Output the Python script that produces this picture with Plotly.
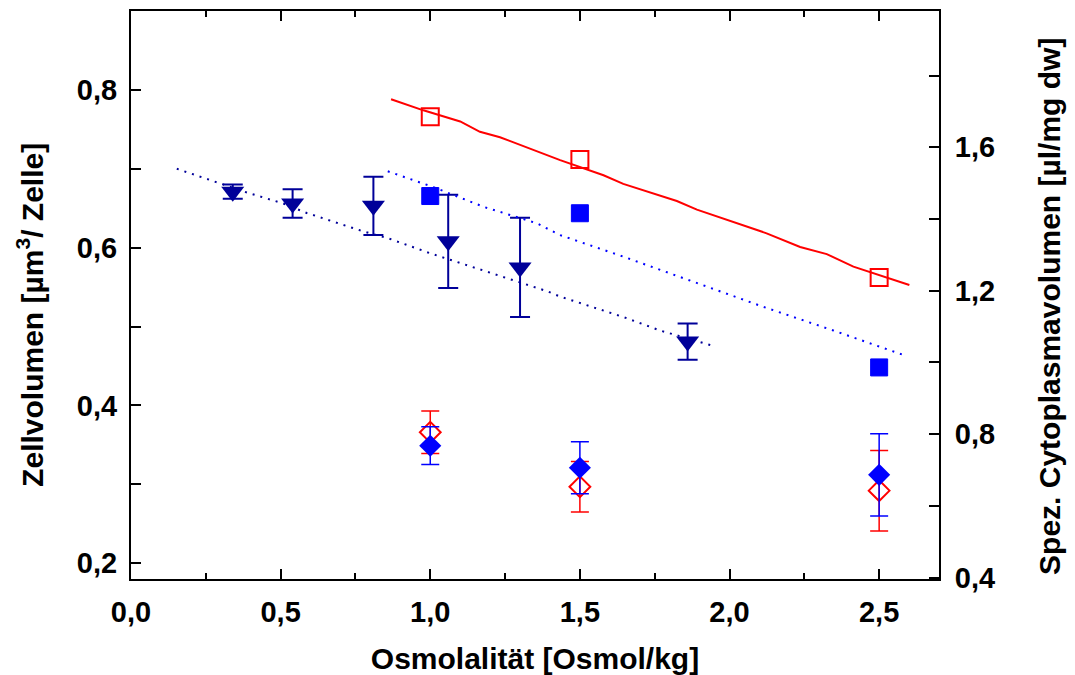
import plotly.graph_objects as go

# ---- data ----
tri_x = [0.34, 0.54, 0.81, 1.06, 1.30, 1.86]
tri_y = [0.671, 0.656, 0.653, 0.608, 0.575, 0.481]
tri_err = [0.009, 0.018, 0.037, 0.059, 0.063, 0.023]

fit_low_x = [0.153, 0.297, 0.387, 0.509, 0.587, 0.765, 0.866, 0.999, 1.088, 1.233, 1.389, 1.434, 1.646, 1.768, 1.941]
fit_low_y = [0.700, 0.682, 0.670, 0.656, 0.644, 0.622, 0.611, 0.593, 0.582, 0.565, 0.545, 0.538, 0.512, 0.495, 0.476]

fit_up_x = [0.858, 1.010, 1.178, 1.356, 1.434, 1.645, 1.879, 2.113, 2.347, 2.587]
fit_up_y = [1.533, 1.489, 1.434, 1.388, 1.355, 1.295, 1.225, 1.155, 1.089, 1.019]

red_line_x = [0.869, 0.977, 1.100, 1.166, 1.233, 1.434, 1.579, 1.645, 1.824, 1.891, 2.124, 2.236, 2.325, 2.414, 2.601]
red_line_y = [1.734, 1.703, 1.672, 1.643, 1.628, 1.564, 1.522, 1.498, 1.450, 1.426, 1.360, 1.322, 1.302, 1.267, 1.216]

sq_x = [1.0, 1.5, 2.5]
red_sq_y = [1.685, 1.566, 1.237]
blue_sq_y = [1.464, 1.416, 0.986]

dia_x = [1.0, 1.5, 2.5]
red_dia_y = [0.366, 0.297, 0.292]
red_dia_err = [0.027, 0.032, 0.051]
blue_dia_y = [0.349, 0.321, 0.312]
blue_dia_err = [0.024, 0.033, 0.052]

x_tickvals = [0.0, 0.5, 1.0, 1.5, 2.0, 2.5]
x_ticktext = ["0,0", "0,5", "1,0", "1,5", "2,0", "2,5"]
y_tickvals = [0.2, 0.4, 0.6, 0.8]
y_ticktext = ["0,2", "0,4", "0,6", "0,8"]
y2_tickvals = [0.4, 0.8, 1.2, 1.6]
y2_ticktext = ["0,4", "0,8", "1,2", "1,6"]

x_title = "Osmolalität [Osmol/kg]"
y_title = "Zellvolumen [µm<sup>3</sup>/ Zelle]"
y2_title = "Spez. Cytoplasmavolumen [µl/mg dw]"

NAVY = "#000099"
BLUE = "#0000FF"
RED = "#FF0000"
FONT = "Liberation Sans, Arial, sans-serif"

fig = go.Figure()

# lines
fig.add_trace(go.Scatter(x=fit_low_x, y=fit_low_y, mode="lines",
                         line=dict(color=NAVY, width=2, dash="2px,6px"), yaxis="y"))
fig.add_trace(go.Scatter(x=fit_up_x, y=fit_up_y, mode="lines",
                         line=dict(color=BLUE, width=2, dash="2px,6px"), yaxis="y2"))
fig.add_trace(go.Scatter(x=red_line_x, y=red_line_y, mode="lines",
                         line=dict(color=RED, width=2), yaxis="y2"))

# squares
fig.add_trace(go.Scatter(x=sq_x, y=red_sq_y, mode="markers", yaxis="y2",
                         marker=dict(symbol="square-open", size=17, color=RED, line=dict(width=2, color=RED))))
fig.add_trace(go.Scatter(x=sq_x, y=blue_sq_y, mode="markers", yaxis="y2",
                         marker=dict(symbol="square", size=17, color=BLUE, line=dict(width=1, color=BLUE))))

# triangles
fig.add_trace(go.Scatter(x=tri_x, y=tri_y, mode="markers", yaxis="y",
                         marker=dict(symbol="triangle-down", size=20, color=NAVY, line=dict(width=0)),
                         error_y=dict(type="data", array=tri_err, color=NAVY, thickness=2, width=10)))

# diamonds
fig.add_trace(go.Scatter(x=dia_x, y=red_dia_y, mode="markers", yaxis="y",
                         marker=dict(symbol="diamond-open", size=16, color=RED, line=dict(width=2, color=RED)),
                         error_y=dict(type="data", array=red_dia_err, color=RED, thickness=1.5, width=9)))
fig.add_trace(go.Scatter(x=dia_x, y=blue_dia_y, mode="markers", yaxis="y",
                         marker=dict(symbol="diamond", size=17, color=BLUE, line=dict(width=0)),
                         error_y=dict(type="data", array=blue_dia_err, color=BLUE, thickness=1.5, width=9)))

tickfont = dict(family=FONT, size=29, color="black", weight="bold")
titlefont = dict(family=FONT, size=30, color="black", weight="bold")

fig.update_layout(
    width=1075, height=675,
    margin=dict(l=131, r=136, t=11, b=96),
    paper_bgcolor="white", plot_bgcolor="white",
    showlegend=False,
    font=dict(family=FONT, color="black"),
    xaxis=dict(
        range=[0, 2.7], showgrid=False, zeroline=False, automargin=False,
        showline=True, linecolor="black", linewidth=2, mirror="ticks",
        ticks="inside", ticklen=10, tickwidth=2, tickcolor="black",
        tickvals=x_tickvals, ticktext=x_ticktext, tickfont=tickfont,
        ticklabelstandoff=6,
        minor=dict(dtick=0.25, tick0=0, ticks="inside", ticklen=6, tickwidth=1.5, tickcolor="black"),
        title=dict(text=x_title, font=titlefont, standoff=23),
    ),
    yaxis=dict(
        range=[0.18, 0.9], showgrid=False, zeroline=False, automargin=False,
        showline=True, linecolor="black", linewidth=2,
        ticks="inside", ticklen=10, tickwidth=2, tickcolor="black",
        tickvals=y_tickvals, ticktext=y_ticktext, tickfont=tickfont,
        ticklabelstandoff=6,
        minor=dict(dtick=0.1, tick0=0.2, ticks="inside", ticklen=10, tickwidth=1.5, tickcolor="black"),
    ),
    yaxis2=dict(
        range=[0.396, 1.98], overlaying="y", side="right", showgrid=False, zeroline=False, automargin=False,
        showline=True, linecolor="black", linewidth=2,
        ticks="inside", ticklen=10, tickwidth=2, tickcolor="black",
        tickvals=y2_tickvals, ticktext=y2_ticktext, tickfont=tickfont,
        ticklabelstandoff=8,
        minor=dict(dtick=0.2, tick0=0.4, ticks="inside", ticklen=10, tickwidth=1.5, tickcolor="black"),
    ),
    annotations=[
        dict(text=y_title, xref="paper", yref="paper", x=-0.125, y=0.465,
             xanchor="center", yanchor="middle", textangle=-90, showarrow=False, font=titlefont),
        dict(text=y2_title, xref="paper", yref="paper", x=1.1374, y=0.479,
             xanchor="center", yanchor="middle", textangle=-90, showarrow=False, font=titlefont),
    ],
)

fig.write_html("out.html")
